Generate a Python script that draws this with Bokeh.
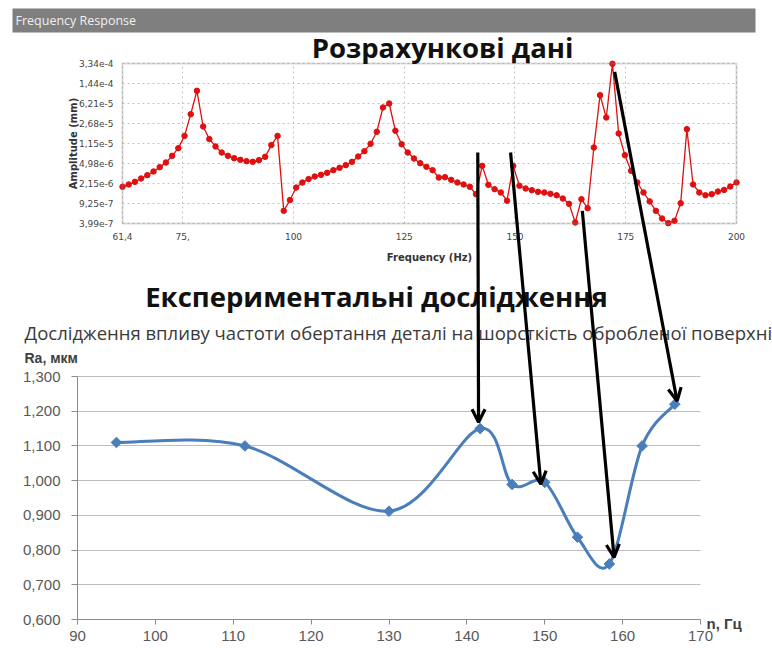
import math
from bokeh.plotting import figure
from bokeh.models import (Range1d, LogScale, LinearAxis, LogAxis, Grid, FixedTicker,
                          CustomJSTickFormatter, Label, Arrow, OpenHead, BoxAnnotation)
from bokeh.embed import file_html
from bokeh.resources import INLINE

# ---------------- data ----------------
header_text = "Frequency Response"

top_title = "Розрахункові дані"
top_x_label = "Frequency (Hz)"
top_y_label = "Amplitude (mm)"

freq_hz = [61.4, 62.8, 64.2, 65.6, 67.0, 68.4, 69.8, 71.2, 72.6, 74.0,
           75.4, 76.8, 78.2, 79.6, 81.0, 82.4, 83.8, 85.2, 86.6, 88.0,
           89.4, 90.8, 92.2, 93.6, 95.0, 96.4, 97.8, 99.2, 100.6, 102.0,
           103.4, 104.8, 106.2, 107.6, 109.0, 110.4, 111.8, 113.2, 114.6, 116.0,
           117.4, 118.8, 120.2, 121.6, 123.0, 124.4, 125.8, 127.2, 128.6, 130.0,
           131.4, 132.8, 134.2, 135.6, 137.0, 138.4, 139.8, 141.2, 142.6, 144.0,
           145.4, 146.8, 148.2, 149.6, 151.0, 152.4, 153.8, 155.2, 156.6, 158.0,
           159.4, 160.8, 162.2, 163.6, 165.0, 166.4, 167.8, 169.2, 170.6, 172.0,
           173.4, 174.8, 176.2, 177.6, 179.0, 180.4, 181.8, 183.2, 184.6, 186.0,
           187.4, 188.8, 190.2, 191.6, 193.0, 194.4, 195.8, 197.2, 198.6, 200.0]

amplitude_mm = [1.87e-6, 2.06e-6, 2.30e-6, 2.65e-6, 3.05e-6, 3.56e-6, 4.27e-6, 5.19e-6, 6.87e-6, 9.49e-6,
                1.59e-5, 3.97e-5, 1.06e-4, 2.36e-5, 1.39e-5, 1.02e-5, 7.90e-6, 6.87e-6, 6.23e-6, 5.81e-6,
                5.49e-6, 5.34e-6, 5.73e-6, 6.59e-6, 1.08e-5, 1.59e-5, 6.80e-7, 1.07e-6, 1.81e-6, 2.24e-6,
                2.58e-6, 2.88e-6, 3.09e-6, 3.36e-6, 3.76e-6, 4.15e-6, 4.64e-6, 5.34e-6, 6.68e-6, 8.36e-6,
                1.14e-5, 1.89e-5, 5.25e-5, 6.21e-5, 1.97e-5, 1.12e-5, 7.90e-6, 6.14e-6, 5.05e-6, 4.33e-6,
                3.76e-6, 2.76e-6, 2.80e-6, 2.50e-6, 2.24e-6, 2.06e-6, 1.87e-6, 1.37e-6, 4.51e-6, 2.03e-6,
                1.69e-6, 1.47e-6, 1.04e-6, 4.51e-6, 1.95e-6, 1.74e-6, 1.62e-6, 1.51e-6, 1.47e-6, 1.39e-6,
                1.31e-6, 1.14e-6, 9.13e-7, 4.16e-7, 1.11e-6, 7.60e-7, 9.76e-6, 8.81e-5, 3.45e-5, 3.30e-4,
                1.76e-5, 7.07e-6, 3.66e-6, 2.24e-6, 1.47e-6, 1.01e-6, 6.80e-7, 4.92e-7, 4.05e-7, 4.46e-7,
                9.38e-7, 2.11e-5, 2.06e-6, 1.47e-6, 1.31e-6, 1.37e-6, 1.53e-6, 1.64e-6, 1.89e-6, 2.24e-6]

top_x_ticks = [61.4, 75, 100, 125, 150, 175, 200]
top_x_tick_labels = ["61,4", "75,", "100", "125", "150", "175", "200"]
top_y_ticks = [3.99e-7, 9.25e-7, 2.15e-6, 4.98e-6, 1.15e-5, 2.68e-5, 6.21e-5, 1.44e-4, 3.34e-4]
top_y_tick_labels = ["3,99e-7", "9,25e-7", "2,15e-6", "4,98e-6", "1,15e-5",
                     "2,68e-5", "6,21e-5", "1,44e-4", "3,34e-4"]

bottom_title = "Експериментальні дослідження"
bottom_subtitle = "Дослідження впливу частоти обертання деталі на шорсткість обробленої поверхні"
bottom_y_label = "Ra, мкм"
bottom_x_label = "n, Гц"

n_hz = [95.0, 111.5, 130.0, 141.7, 145.8, 150.0, 154.2, 158.3, 162.5, 166.7]
ra_um = [1.110, 1.100, 0.912, 1.150, 0.989, 0.995, 0.837, 0.760, 1.100, 1.220]

bottom_x_ticks = [90, 100, 110, 120, 130, 140, 150, 160, 170]
bottom_y_ticks = [0.6, 0.7, 0.8, 0.9, 1.0, 1.1, 1.2, 1.3]

# arrows: from a calculated resonance (top chart) to a measured point (bottom chart)
arrow_freq_hz = [141.6, 149.0, 165.2, 172.5]
arrow_amp_mm = [7.9e-6, 7.9e-6, 6.8e-7, 2.35e-4]
arrow_n_hz = [141.5, 149.5, 158.9, 167.0]
arrow_ra_um = [1.168, 0.990, 0.779, 1.229]

# ---------------- page geometry (pixels) ----------------
FIG_W, FIG_H = 772, 648
HEADER_BOX = (12, 755, 8, 32)      # left, right, top, bottom of the grey header bar
TOP_BOX = (122, 736, 63, 223)      # left, right, top, bottom of the upper plot area
BOT_BOX = (77, 700, 376, 619)      # left, right, top, bottom of the lower plot area

tx0, tx1 = top_x_ticks[0], top_x_ticks[-1]
ty0, ty1 = top_y_ticks[0], top_y_ticks[-1]
bx0, bx1 = bottom_x_ticks[0], bottom_x_ticks[-1]
by0, by1 = bottom_y_ticks[0], bottom_y_ticks[-1]
L0, L1 = math.log10(ty0), math.log10(ty1)


def extend(v0, v1, p0, p1, q0, q1):
    """linear map v0->p0, v1->p1 ; return values at pixels q0, q1"""
    k = (v1 - v0) / (p1 - p0)
    return v0 + (q0 - p0) * k, v0 + (q1 - p0) * k


# full-canvas ranges for each coordinate system (frame == whole canvas)
bx_rng = extend(bx0, bx1, BOT_BOX[0], BOT_BOX[1], 0, FIG_W)
by_rng = extend(by0, by1, BOT_BOX[3], BOT_BOX[2], FIG_H, 0)
tx_rng = extend(tx0, tx1, TOP_BOX[0], TOP_BOX[1], 0, FIG_W)
tl_rng = extend(L0, L1, TOP_BOX[3], TOP_BOX[2], FIG_H, 0)


def top_to_page(f, a):
    px = TOP_BOX[0] + (f - tx0) / (tx1 - tx0) * (TOP_BOX[1] - TOP_BOX[0])
    py = TOP_BOX[3] - (math.log10(a) - L0) / (L1 - L0) * (TOP_BOX[3] - TOP_BOX[2])
    return px, py


def page_to_bot(px, py):
    n = bx0 + (px - BOT_BOX[0]) / (BOT_BOX[1] - BOT_BOX[0]) * (bx1 - bx0)
    r = by0 + (BOT_BOX[3] - py) / (BOT_BOX[3] - BOT_BOX[2]) * (by1 - by0)
    return n, r


def label_formatter(values, labels):
    return CustomJSTickFormatter(args=dict(tvals=values, tlabs=labels), code="""
        for (let i = 0; i < tvals.length; i++) {
            if (Math.abs(tvals[i] - tick) <= 1e-9 * Math.abs(tvals[i])) { return tlabs[i]; }
        }
        return String(tick);
    """)


# ---------------- single canvas holding both charts ----------------
p = figure(width=FIG_W, height=FIG_H,
           x_range=Range1d(*bx_rng), y_range=Range1d(*by_rng),
           x_axis_location=None, y_axis_location=None,
           output_backend="svg", toolbar_location=None, min_border=0)
p.outline_line_color = None
p.grid.visible = False
p.extra_x_ranges = {"tx": Range1d(*tx_rng), "px": Range1d(0, FIG_W)}
p.extra_y_ranges = {"ty": Range1d(10 ** tl_rng[0], 10 ** tl_rng[1]),
                    "py": Range1d(FIG_H, 0)}
p.extra_y_scales = {"ty": LogScale()}

# ---- header bar ----
p.add_layout(BoxAnnotation(left=HEADER_BOX[0], right=HEADER_BOX[1],
                           top=HEADER_BOX[2], bottom=HEADER_BOX[3],
                           x_range_name="px", y_range_name="py",
                           fill_color="#7f7f7f", fill_alpha=1.0, line_color=None))
p.add_layout(Label(x=HEADER_BOX[0] + 3, y=(HEADER_BOX[2] + HEADER_BOX[3]) / 2,
                   x_range_name="px", y_range_name="py", text=header_text,
                   text_align="left", text_baseline="middle", text_font="Open Sans",
                   text_font_size="12.5px", text_color="#f0f0f0"))

# ---- upper chart: calculated frequency response ----
for dim, ticks, bnds, cb in ((0, top_x_ticks, (tx0, tx1), (ty0, ty1)),
                             (1, top_y_ticks, (ty0, ty1), (tx0, tx1))):
    p.add_layout(Grid(dimension=dim, ticker=FixedTicker(ticks=ticks), bounds=bnds, cross_bounds=cb,
                      x_range_name="tx", y_range_name="ty",
                      grid_line_color="#c4c4c4", grid_line_dash="2 3", grid_line_width=1))
p.add_layout(BoxAnnotation(left=tx0, right=tx1, bottom=ty0, top=ty1,
                           x_range_name="tx", y_range_name="ty",
                           fill_color=None, line_color="#868686", line_width=2))

txa = LinearAxis(x_range_name="tx", y_range_name="ty", fixed_location=ty0, bounds=(tx0, tx1),
                 ticker=FixedTicker(ticks=top_x_ticks),
                 formatter=label_formatter(top_x_ticks, top_x_tick_labels),
                 axis_label=top_x_label)
tya = LogAxis(x_range_name="tx", y_range_name="ty", fixed_location=tx0, bounds=(ty0, ty1),
              ticker=FixedTicker(ticks=top_y_ticks),
              formatter=label_formatter(top_y_ticks, top_y_tick_labels),
              axis_label=top_y_label)
for ax in (txa, tya):
    ax.axis_line_color = None
    ax.major_tick_line_color = None
    ax.minor_tick_line_color = None
    ax.major_label_text_font = "DejaVu Sans"
    ax.major_label_text_font_size = "9px"
    ax.major_label_text_color = "#444444"
    ax.axis_label_text_font = "DejaVu Sans"
    ax.axis_label_text_font_size = "10px"
    ax.axis_label_text_font_style = "bold"
    ax.axis_label_text_color = "#333333"
txa.major_label_standoff = 3
txa.axis_label_standoff = 9
tya.major_label_standoff = 3
tya.axis_label_standoff = -3
p.add_layout(txa, "below")
p.add_layout(tya, "left")

p.line(freq_hz, amplitude_mm, x_range_name="tx", y_range_name="ty",
       line_color="#e01010", line_width=1.3)
p.scatter(freq_hz, amplitude_mm, x_range_name="tx", y_range_name="ty", marker="circle",
          size=5.5, fill_color="#e01010", line_color="#e01010")

# ---- lower chart: experimental roughness ----
p.add_layout(Grid(dimension=1, ticker=FixedTicker(ticks=bottom_y_ticks), bounds=(by0, by1),
                  cross_bounds=(bx0, bx1), grid_line_color="#bdbdbd", grid_line_width=1))
bxa = LinearAxis(fixed_location=by0, bounds=(bx0, bx1), ticker=FixedTicker(ticks=bottom_x_ticks))
bya = LinearAxis(fixed_location=bx0, bounds=(by0, by1), ticker=FixedTicker(ticks=bottom_y_ticks),
                 formatter=CustomJSTickFormatter(code="return tick.toFixed(3).replace('.', ',');"))
for ax in (bxa, bya):
    ax.axis_line_color = "#8c8c8c"
    ax.major_tick_line_color = "#8c8c8c"
    ax.minor_tick_line_color = None
    ax.major_tick_in = 0
    ax.major_label_text_font = "Liberation Sans"
    ax.major_label_text_font_size = "15px"
    ax.major_label_text_color = "#595959"
bxa.major_tick_out = 5
bxa.major_label_standoff = 6
bya.major_tick_out = 6
bya.major_label_standoff = 11
p.add_layout(bxa, "below")
p.add_layout(bya, "left")

# smooth (Bezier) curve through the measured points
x0s, y0s, x1s, y1s, cx0s, cy0s, cx1s, cy1s = [], [], [], [], [], [], [], []
npts = len(n_hz)
for i in range(npts - 1):
    a0 = max(i - 1, 0)
    a3 = min(i + 2, npts - 1)
    x0s.append(n_hz[i]); y0s.append(ra_um[i])
    x1s.append(n_hz[i + 1]); y1s.append(ra_um[i + 1])
    cx0s.append(n_hz[i] + (n_hz[i + 1] - n_hz[a0]) / 6.0)
    cy0s.append(ra_um[i] + (ra_um[i + 1] - ra_um[a0]) / 6.0)
    cx1s.append(n_hz[i + 1] - (n_hz[a3] - n_hz[i]) / 6.0)
    cy1s.append(ra_um[i + 1] - (ra_um[a3] - ra_um[i]) / 6.0)
p.bezier(x0=x0s, y0=y0s, x1=x1s, y1=y1s, cx0=cx0s, cy0=cy0s, cx1=cx1s, cy1=cy1s,
         line_color="#4a7ebb", line_width=3)
p.scatter(n_hz, ra_um, marker="square", angle=math.pi / 4, size=7.5,
          fill_color="#4a7ebb", line_color="#4a7ebb")

# ---- texts (page pixel coordinates) ----
def page_label(x, y, text, **kw):
    p.add_layout(Label(x=x, y=y, x_range_name="px", y_range_name="py", text=text,
                       text_baseline="alphabetic", **kw))


page_label(442, 47, top_title, text_align="center", text_font="Open Sans",
           text_font_style="bold", text_font_size="27.5px", text_color="#111111")
page_label(376, 296, bottom_title, text_align="center", text_font="Open Sans",
           text_font_style="bold", text_font_size="27.5px", text_color="#111111")
page_label(24, 332, bottom_subtitle, text_align="left", text_font="Open Sans",
           text_font_size="18.5px", text_color="#3a3a3a")
page_label(24, 357, bottom_y_label, text_align="left", text_font="Liberation Sans",
           text_font_style="bold", text_font_size="14px", text_color="#404040")
page_label(706, 623, bottom_x_label, text_align="left", text_font="Liberation Sans",
           text_font_style="bold", text_font_size="15px", text_color="#404040")

# ---- arrows linking calculated resonances to measured points ----
for f, a, n, r in zip(arrow_freq_hz, arrow_amp_mm, arrow_n_hz, arrow_ra_um):
    sn, sr = page_to_bot(*top_to_page(f, a))
    p.add_layout(Arrow(end=OpenHead(size=13, line_width=3.2, line_color="black"),
                       x_start=sn, y_start=sr, x_end=n, y_end=r,
                       line_color="black", line_width=3.2))

open("out.html", "w").write(file_html(p, INLINE))
